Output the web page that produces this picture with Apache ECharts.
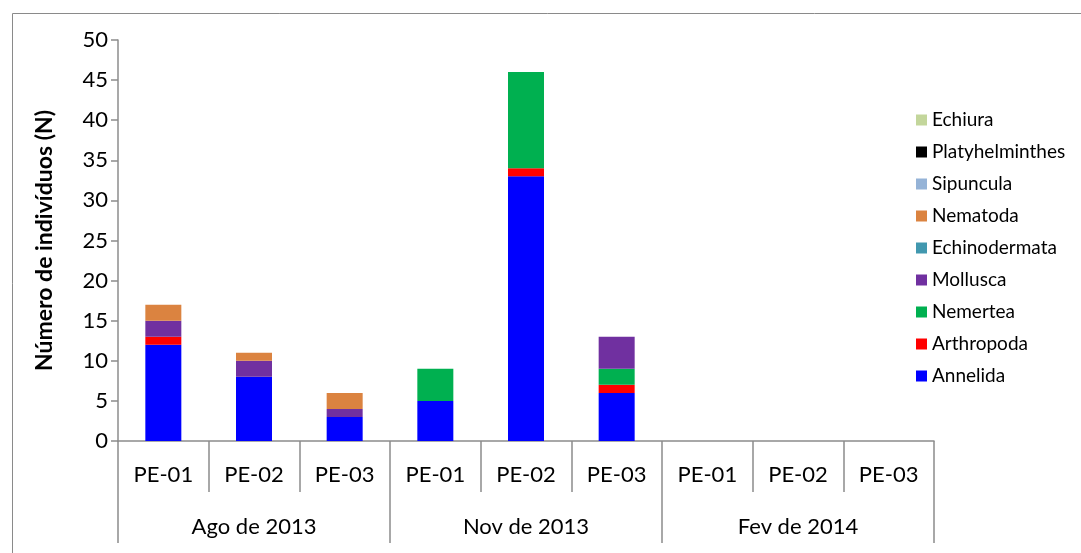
<!DOCTYPE html>
<html>
<head>
<meta charset="utf-8">
<script src="https://cdn.jsdelivr.net/npm/echarts@6/dist/echarts.min.js"></script>
<style>
  html, body { margin: 0; padding: 0; background: #fff; }
  #chart { width: 1081px; height: 553px; }
</style>
</head>
<body>
<div id="chart"></div>
<script>
// sites and sampling campaigns
const sites = ['PE-01', 'PE-02', 'PE-03', 'PE-01', 'PE-02', 'PE-03', 'PE-01', 'PE-02', 'PE-03']
const campaigns = ['Ago de 2013', 'Nov de 2013', 'Fev de 2014']
const yTicks = [0, 5, 10, 15, 20, 25, 30, 35, 40, 45, 50]

// individuals per taxon (stack order, bottom -> top)
const annelida = [12, 8, 3, 5, 33, 6, 0, 0, 0]
const arthropoda = [1, 0, 0, 0, 1, 1, 0, 0, 0]
const nemertea = [0, 0, 0, 4, 12, 2, 0, 0, 0]
const mollusca = [2, 2, 1, 0, 0, 4, 0, 0, 0]
const echinodermata = [0, 0, 0, 0, 0, 0, 0, 0, 0]
const nematoda = [2, 1, 2, 0, 0, 0, 0, 0, 0]
const sipuncula = [0, 0, 0, 0, 0, 0, 0, 0, 0]
const platyhelminthes = [0, 0, 0, 0, 0, 0, 0, 0, 0]
const echiura = [0, 0, 0, 0, 0, 0, 0, 0, 0]

const taxa = [
  { name: 'Annelida', data: annelida, color: '#0000ff' },
  { name: 'Arthropoda', data: arthropoda, color: '#ff0000' },
  { name: 'Nemertea', data: nemertea, color: '#00b050' },
  { name: 'Mollusca', data: mollusca, color: '#7030a0' },
  { name: 'Echinodermata', data: echinodermata, color: '#4198af' },
  { name: 'Nematoda', data: nematoda, color: '#db8340' },
  { name: 'Sipuncula', data: sipuncula, color: '#95b3d7' },
  { name: 'Platyhelminthes', data: platyhelminthes, color: '#000000' },
  { name: 'Echiura', data: echiura, color: '#c3d69b' }
]

const font = 'Lato, "Open Sans", sans-serif'
const axisGray = '#8c8c8c'

const chart = echarts.init(document.getElementById('chart'))

chart.setOption({
  animation: false,
  textStyle: { fontFamily: font },
  graphic: [
    {
      type: 'rect',
      left: 10,
      top: 11,
      shape: { width: 1200, height: 700 },
      style: { fill: 'none', stroke: '#8a8a8a', lineWidth: 1 }
    }
  ],
  grid: {
    left: 118,
    right: 147,
    top: 40,
    bottom: 112
  },
  legend: {
    orient: 'vertical',
    left: 911,
    top: 105,
    itemWidth: 11,
    itemHeight: 11,
    itemGap: 12,
    icon: 'rect',
    textStyle: { fontFamily: font, fontSize: 19, lineHeight: 20, color: '#000' },
    data: taxa.map(t => t.name).reverse()
  },
  xAxis: [
    {
      type: 'category',
      data: sites,
      position: 'bottom',
      axisLine: { lineStyle: { color: axisGray, width: 1.5 } },
      axisTick: { show: true, interval: 0, length: 51, lineStyle: { color: axisGray, width: 1.5 } },
      axisLabel: { interval: 0, margin: 23, fontSize: 22, color: '#000', fontFamily: font }
    },
    {
      type: 'category',
      data: campaigns,
      position: 'bottom',
      axisLine: { show: false },
      axisTick: { show: true, interval: 0, length: 102, lineStyle: { color: axisGray, width: 1.5 } },
      axisLabel: { interval: 0, margin: 75, fontSize: 22, color: '#000', fontFamily: font }
    }
  ],
  yAxis: {
    type: 'value',
    min: yTicks[0],
    max: yTicks[yTicks.length - 1],
    interval: 5,
    name: 'Número de indivíduos (N)',
    nameLocation: 'middle',
    nameGap: 62,
    nameTextStyle: { fontSize: 23, fontWeight: 'bold', color: '#000', fontFamily: font },
    splitLine: { show: false },
    axisLine: { show: true, lineStyle: { color: axisGray, width: 1.5 } },
    axisTick: { show: true, length: 7, lineStyle: { color: axisGray, width: 1.5 } },
    axisLabel: { margin: 10, fontSize: 22, color: '#000', fontFamily: font }
  },
  series: taxa.map(t => ({
    name: t.name,
    type: 'bar',
    stack: 'total',
    xAxisIndex: 0,
    barWidth: 36,
    data: t.data,
    itemStyle: { color: t.color }
  }))
})
</script>
</body>
</html>
